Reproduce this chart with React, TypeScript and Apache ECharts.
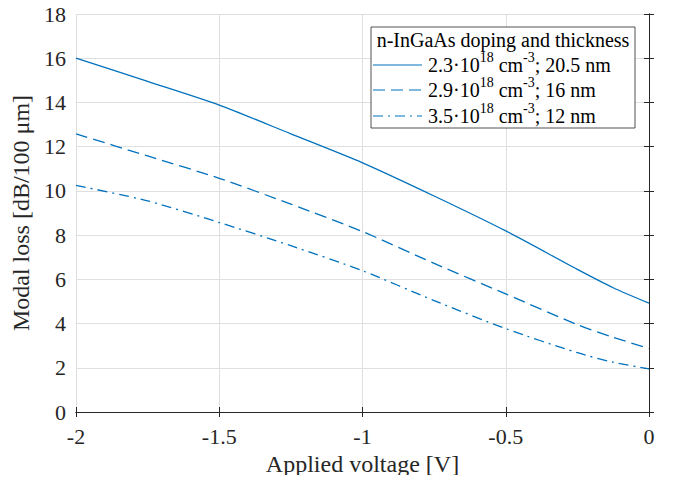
import React, { useEffect, useRef } from "react";
import * as echarts from "echarts";

const voltage = [-2, -1.75, -1.5, -1.25, -1, -0.75, -0.5, -0.25, -0.125, 0];
const loss1 = [16.0, 14.95, 13.88, 12.58, 11.27, 9.77, 8.19, 6.45, 5.62, 4.92];
const loss2 = [12.58, 11.58, 10.57, 9.4, 8.16, 6.72, 5.34, 3.95, 3.38, 2.87];
const loss3 = [10.25, 9.55, 8.57, 7.52, 6.39, 5.04, 3.77, 2.68, 2.25, 1.95];

const legendTitle = "n-InGaAs doping and thickness";
const dopingMantissa = ["2.3", "2.9", "3.5"];
const dopingExponent = ["18", "18", "18"];
const thickness = ["20.5 nm", "16 nm", "12 nm"];

const xTicks = { min: -2, max: 0, interval: 0.5 };
const yTicks = { min: 0, max: 18, interval: 2 };

const xName = "Applied voltage [V]";
const yName = "Modal loss [dB/100 μm]";

const BLUE = "#0072BD";
const AX = "#262626";
const FONT = "'Liberation Serif', 'Times New Roman', serif";
const dashes: (string | number[])[] = ["solid", [12, 6], [10, 5, 2, 5]];

export default function App() {
  const ref = useRef<HTMLDivElement>(null);
  useEffect(() => {
    if (!ref.current) return;
    const chart = echarts.init(ref.current, undefined, { renderer: "svg" });
    const series = [loss1, loss2, loss3];
    const names = dopingMantissa.map(
      (m, i) => `${m}·10^${dopingExponent[i]} cm^-3; ${thickness[i]}`
    );
    const axisCommon = {
      axisLine: { show: true, lineStyle: { color: AX, width: 1 } },
      axisTick: { show: true, inside: true, length: 5, lineStyle: { color: AX } },
    };
    const legX = 371;
    const legY = 27;
    const legW = 264;
    const legH = 101;
    const rowY = [65, 90, 116];
    const legendGraphics: any[] = [
      {
        type: "rect",
        shape: { x: legX, y: legY, width: legW, height: legH },
        style: { fill: "#fff", stroke: AX, lineWidth: 0.8 },
        z: 100,
      },
      {
        type: "text",
        x: legX + legW / 2,
        y: 40,
        style: {
          text: legendTitle,
          font: `20px ${FONT}`,
          fill: "#000",
          align: "center",
          verticalAlign: "middle",
        },
        z: 101,
      },
    ];
    dopingMantissa.forEach((m, i) => {
      legendGraphics.push({
        type: "line",
        shape: { x1: legX + 2, y1: rowY[i], x2: legX + 51, y2: rowY[i] },
        style: {
          stroke: BLUE,
          lineWidth: 1.2,
          lineDash: dashes[i] === "solid" ? null : (dashes[i] as number[]),
        },
        z: 101,
      });
      legendGraphics.push({
        type: "text",
        x: legX + 57,
        y: rowY[i] + 10,
        style: {
          text: `{n|${m}·10}{s|${dopingExponent[i]}}{n| cm}{s|-3}{n|; ${thickness[i]}}`,
          fill: "#000",
          align: "left",
          verticalAlign: "bottom",
          rich: {
            n: { fontSize: 20, fontFamily: FONT, lineHeight: 25, verticalAlign: "bottom", fill: "#000" },
            s: { fontSize: 14, fontFamily: FONT, lineHeight: 25, verticalAlign: "top", fill: "#000" },
          },
        },
        z: 101,
      });
    });
    chart.setOption({
      animation: false,
      backgroundColor: "#fff",
      textStyle: { fontFamily: FONT },
      grid: { left: 76, right: 24, top: 14, bottom: 71, containLabel: false },
      xAxis: [
        {
          type: "value",
          ...xTicks,
          position: "bottom",
          ...axisCommon,
          axisLabel: {
            color: AX,
            fontSize: 22,
            fontFamily: FONT,
            margin: 13,
            formatter: (v: number) => String(v),
          },
          splitLine: { show: true, lineStyle: { color: "#dfdfdf", width: 1 } },
          name: xName,
          nameLocation: "middle",
          nameGap: 37,
          nameTextStyle: { color: AX, fontSize: 24, fontFamily: FONT },
        },
        {
          type: "value",
          ...xTicks,
          position: "top",
          ...axisCommon,
          axisLabel: { show: false },
          splitLine: { show: false },
        },
      ],
      yAxis: [
        {
          type: "value",
          ...yTicks,
          position: "left",
          ...axisCommon,
          axisLabel: { color: AX, fontSize: 22, fontFamily: FONT, margin: 10 },
          splitLine: { show: true, lineStyle: { color: "#dfdfdf", width: 1 } },
          name: yName,
          nameLocation: "middle",
          nameGap: 40,
          nameTextStyle: { color: AX, fontSize: 24, fontFamily: FONT },
        },
        {
          type: "value",
          ...yTicks,
          position: "right",
          ...axisCommon,
          axisLabel: { show: false },
          splitLine: { show: false },
        },
      ],
      series: series.map((d, i) => ({
        type: "line",
        name: names[i],
        xAxisIndex: 0,
        yAxisIndex: 0,
        data: voltage.map((v, j) => [v, d[j]]),
        smooth: 0.25,
        showSymbol: false,
        symbol: "none",
        lineStyle: { color: BLUE, width: 1.3, type: dashes[i] as any },
        z: 3,
      })),
      graphic: legendGraphics,
    });
    return () => chart.dispose();
  }, []);
  return <div ref={ref} style={{ width: 673, height: 483, margin: -8 }} />;
}
